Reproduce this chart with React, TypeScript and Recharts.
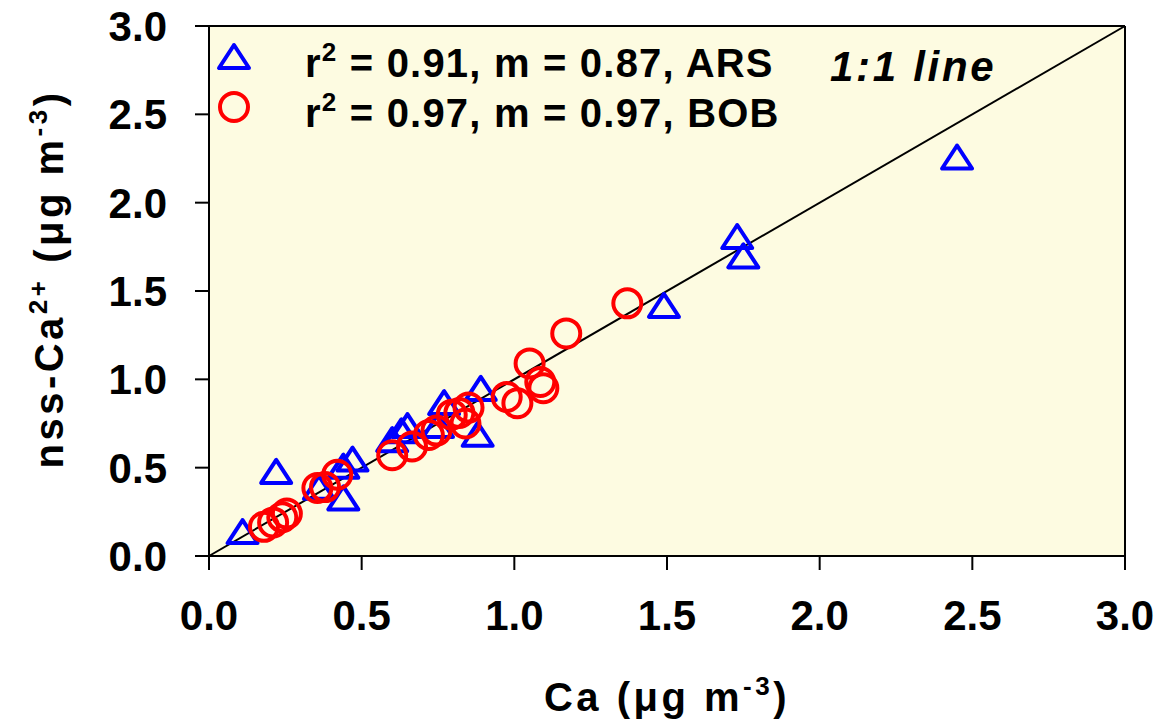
import React from "react";
import {
  ScatterChart,
  Scatter,
  XAxis,
  YAxis,
  CartesianGrid,
  ReferenceLine,
} from "recharts";

// ARS: total Ca vs nss-Ca2+ (ug m-3)
const arsCa = [0.11, 0.22, 0.36, 0.44, 0.44, 0.47, 0.6, 0.63, 0.65, 0.75, 0.77, 0.88, 0.89, 1.49, 1.73, 1.75, 2.45];
const arsNss = [0.13, 0.47, 0.38, 0.32, 0.5, 0.54, 0.65, 0.7, 0.73, 0.73, 0.86, 0.68, 0.94, 1.41, 1.8, 1.69, 2.25];

// BOB
const bobCa = [0.18, 0.21, 0.24, 0.255, 0.355, 0.38, 0.42, 0.6, 0.665, 0.72, 0.745, 0.795, 0.82, 0.84, 0.85, 0.975, 1.01, 1.05, 1.085, 1.095, 1.17, 1.37];
const bobNss = [0.165, 0.19, 0.22, 0.24, 0.385, 0.39, 0.46, 0.57, 0.62, 0.685, 0.71, 0.8, 0.81, 0.75, 0.84, 0.9, 0.865, 1.09, 0.985, 0.95, 1.26, 1.43];

const axisTicks = [0, 0.5, 1.0, 1.5, 2.0, 2.5, 3.0];
const oneToOne = [
  { x: 0, y: 0 },
  { x: 3, y: 3 },
];
const legendRows = [
  { r2: "0.91", m: "0.87", site: "ARS" },
  { r2: "0.97", m: "0.97", site: "BOB" },
];

const arsData = arsCa.map((x, i) => ({ x, y: arsNss[i] }));
const bobData = bobCa.map((x, i) => ({ x, y: bobNss[i] }));

const W = 1159;
const H = 726;
const LEFT = 209;
const TOP = 26;
const RIGHT = 1125;
const BOTTOM = 556;
const YAXIS_W = 120;
const XAXIS_H = 80;
const FONT = "'Liberation Sans', Arial, sans-serif";
const BG = "#FDFBE1";
const BLUE = "#0000FF";
const RED = "#FF0000";

const Triangle = (props: any) => {
  const { cx, cy } = props;
  if (cx == null || cy == null) return null;
  return (
    <polygon
      points={`${cx},${cy - 13} ${cx - 15},${cy + 10} ${cx + 15},${cy + 10}`}
      fill="none"
      stroke={BLUE}
      strokeWidth={4}
      strokeLinejoin="round"
    />
  );
};

const Ring = (props: any) => {
  const { cx, cy } = props;
  if (cx == null || cy == null) return null;
  return <circle cx={cx} cy={cy} r={14} fill="none" stroke={RED} strokeWidth={4} />;
};

const XTitle = () => (
  <text
    x={(LEFT + RIGHT) / 2}
    y={711}
    textAnchor="middle"
    fontSize={40}
    fontWeight="bold"
    fontFamily={FONT}
    letterSpacing={3.5}
    fill="#000"
  >
    Ca (μg m
    <tspan dy={-16} fontSize={26}>-3</tspan>
    <tspan dy={16}>)</tspan>
  </text>
);

const YTitle = () => (
  <text
    transform="translate(63, 279) rotate(-90)"
    textAnchor="middle"
    fontSize={40}
    fontWeight="bold"
    fontFamily={FONT}
    letterSpacing={3.5}
    fill="#000"
  >
    nss-Ca
    <tspan dy={-16} fontSize={26}>2+</tspan>
    <tspan dy={16}> (μg m</tspan>
    <tspan dy={-16} fontSize={26}>-3</tspan>
    <tspan dy={16}>)</tspan>
  </text>
);

const tickStyle = { fill: "#000", fontSize: 42, fontWeight: "bold" as const, fontFamily: FONT };
const fmt = (v: number) => v.toFixed(1);

export default function App() {
  return (
    <div style={{ position: "absolute", left: 0, top: 0, width: W, height: H, background: "#fff" }}>
      <ScatterChart
        width={W}
        height={H}
        margin={{ top: TOP, right: W - RIGHT, left: LEFT - YAXIS_W, bottom: H - BOTTOM - XAXIS_H }}
        style={{ fontFamily: FONT }}
      >
        <CartesianGrid horizontal={false} vertical={false} fill={BG} fillOpacity={1} />
        <XAxis
          type="number"
          dataKey="x"
          domain={[0, 3]}
          ticks={axisTicks}
          tickFormatter={fmt}
          allowDataOverflow
          height={XAXIS_H}
          tick={tickStyle}
          tickSize={14}
          tickMargin={30}
          axisLine={{ stroke: "#000", strokeWidth: 2 }}
          tickLine={{ stroke: "#000", strokeWidth: 2 }}
          label={<XTitle />}
        />
        <YAxis
          type="number"
          dataKey="y"
          domain={[0, 3]}
          ticks={axisTicks}
          tickFormatter={fmt}
          allowDataOverflow
          width={YAXIS_W}
          tick={tickStyle}
          tickSize={14}
          tickMargin={28}
          axisLine={{ stroke: "#000", strokeWidth: 2 }}
          tickLine={{ stroke: "#000", strokeWidth: 2 }}
          label={<YTitle />}
        />
        <Scatter name="ARS" data={arsData} shape={<Triangle />} isAnimationActive={false} />
        <Scatter name="BOB" data={bobData} shape={<Ring />} isAnimationActive={false} />
        <ReferenceLine segment={oneToOne} stroke="#000" strokeWidth={2} />
        <ReferenceLine y={3} stroke="#000" strokeWidth={2} />
        <ReferenceLine x={3} stroke="#000" strokeWidth={2} />
      </ScatterChart>

      <svg
        width={W}
        height={H}
        style={{ position: "absolute", left: 0, top: 0, pointerEvents: "none" }}
        fontFamily={FONT}
        fontWeight="bold"
      >
        {legendRows.map((row, i) => {
          const cy = 57 + i * 50;
          return (
            <g key={row.site}>
              {i === 0 ? <Triangle cx={234} cy={cy + 1} /> : <Ring cx={234} cy={cy} />}
              <text x={305} y={cy + 20} fontSize={40} letterSpacing={1.2} fill="#000">
                r<tspan dy={-16} fontSize={26}>2</tspan>
                <tspan dy={16}>{` = ${row.r2}, m = ${row.m}, ${row.site}`}</tspan>
              </text>
            </g>
          );
        })}
        <text x={830} y={81} fontSize={42} fontStyle="italic" letterSpacing={2.7} fill="#000">
          1:1 line
        </text>
      </svg>
    </div>
  );
}
